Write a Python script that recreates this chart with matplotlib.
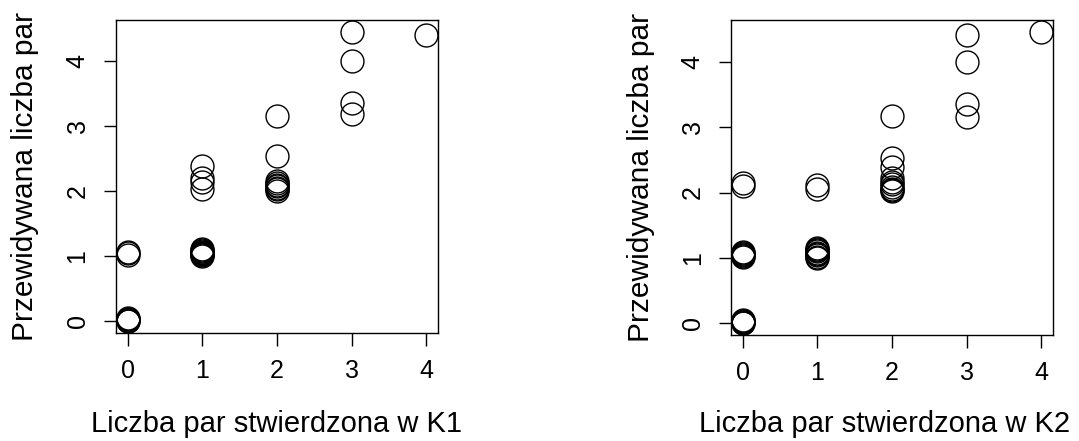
import matplotlib
matplotlib.use('Agg')
import matplotlib.pyplot as plt

plt.rcParams['font.family'] = ['Liberation Sans', 'DejaVu Sans']

# K1 - stwierdzona vs przewidywana liczba par
k1_obs = [0, 0, 0, 0, 0, 0, 0, 0, 0,
          1, 1, 1, 1, 1, 1, 1, 1, 1, 1, 1, 1, 1, 1,
          2, 2, 2, 2, 2, 2, 2, 2, 2,
          3, 3, 3, 3,
          4]
k1_pred = [0.00, 0.01, 0.02, 0.03, 0.04, 0.05, 1.02, 1.05, 1.07,
           1.00, 1.02, 1.03, 1.04, 1.05, 1.06, 1.07, 1.08, 1.10, 1.12, 2.03, 2.15, 2.20, 2.39,
           2.00, 2.03, 2.05, 2.08, 2.10, 2.13, 2.16, 2.54, 3.16,
           3.19, 3.36, 4.00, 4.46,
           4.40]

# K2
k2_obs = [0, 0, 0, 0, 0, 0, 0, 0, 0, 0, 0, 0, 0, 0,
          1, 1, 1, 1, 1, 1, 1, 1, 1, 1, 1,
          2, 2, 2, 2, 2, 2, 2, 2, 2, 2,
          3, 3, 3, 3,
          4]
k2_pred = [0.00, 0.01, 0.02, 0.03, 0.04, 0.05, 1.01, 1.03, 1.05, 1.06, 1.07, 1.09, 2.10, 2.15,
           1.00, 1.02, 1.04, 1.06, 1.08, 1.10, 1.12, 1.13, 1.15, 2.06, 2.11,
           2.02, 2.04, 2.06, 2.09, 2.13, 2.16, 2.22, 2.39, 2.53, 3.17,
           3.16, 3.35, 4.00, 4.41,
           4.46]

x_labels = ['Liczba par stwierdzona w K1', 'Liczba par stwierdzona w K2']
y_label = 'Przewidywana liczba par'
ticks = [0, 1, 2, 3, 4]

fig = plt.figure(figsize=(10.79, 4.41), dpi=100)
ax1 = fig.add_axes([0.1075, 0.2449, 0.2984, 0.7098])
ax2 = fig.add_axes([0.6775, 0.2404, 0.2984, 0.7143])


def r_lim(vals):
    lo, hi = min(vals), max(vals)
    d = (hi - lo) * 0.04
    return lo - d, hi + d


for ax, xs, ys, xl in [(ax1, k1_obs, k1_pred, x_labels[0]),
                       (ax2, k2_obs, k2_pred, x_labels[1])]:
    ax.plot(xs, ys, 'o', mfc='none', mec='black', ms=16.5, mew=1.0, ls='none')
    ax.set_xlim(r_lim(xs))
    ax.set_ylim(r_lim(ys))
    ax.set_xticks(ticks)
    ax.set_yticks(ticks)
    for s in ax.spines.values():
        s.set_linewidth(1.0)
    ax.tick_params(direction='out', length=9, width=1.0, labelsize=18)
    ax.tick_params(axis='x', pad=10)
    ax.tick_params(axis='y', pad=10, labelrotation=90)
    for t in ax.get_yticklabels():
        t.set_va('center')
    ax.set_xlabel(xl, fontsize=21, va='top')
    ax.set_ylabel(y_label, fontsize=21.5, va='center')

ax1.xaxis.set_label_coords(0.5, (333 - 410) / 313)
ax2.xaxis.set_label_coords(0.478, (335 - 410) / 315)
ax1.yaxis.set_label_coords((25 - 116) / 322, 0.5)
ax2.yaxis.set_label_coords((641 - 731) / 322, 0.5)

plt.savefig('out.png', dpi=100)
plt.close()
